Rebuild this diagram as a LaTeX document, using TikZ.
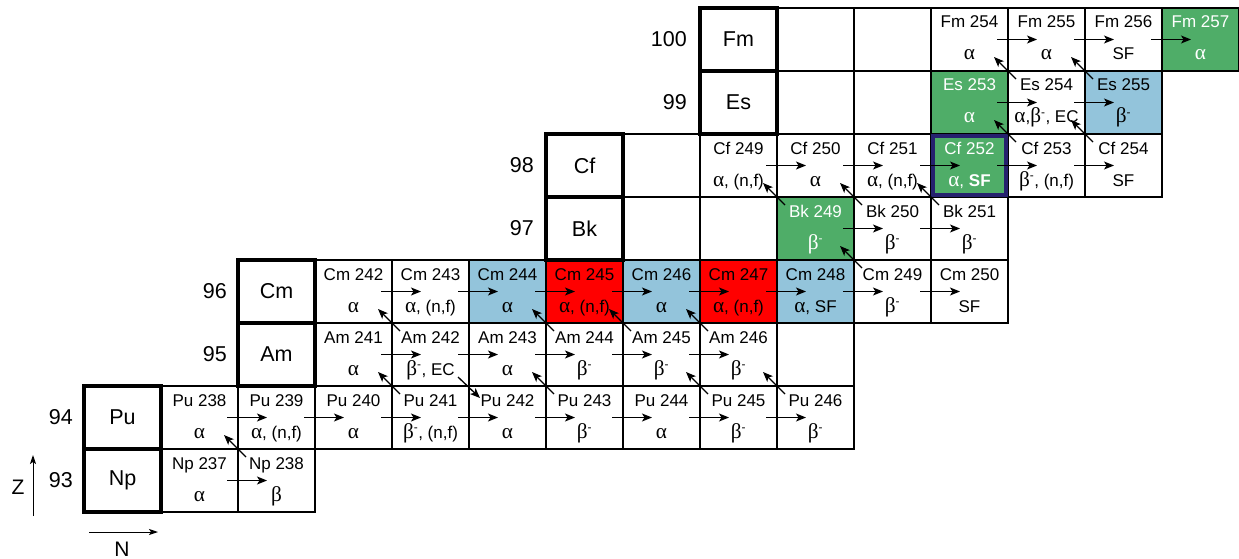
\documentclass[tikz,border=0pt]{standalone}
\usepackage{fontspec}
\setmainfont{Liberation Sans}
\newfontfamily\grk[Scale=1.25]{Liberation Serif}
\usetikzlibrary{arrows.meta}
\definecolor{cblue}{RGB}{147,196,219}
\definecolor{cred}{RGB}{255,0,0}
\definecolor{cgreen}{RGB}{79,173,104}
\definecolor{cnavy}{RGB}{38,34,110}
\newcommand\xal{{\grk α}}
\newcommand\xbe{{\grk β}}
\newcommand\xbm{{\grk β}\textsuperscript{-}}
\newcommand\nuc[7]{%
  \node[cellbox,#4] (#1) at ({122.5+77*#2},{480.5-63*#3}) {};
  \node[toptext,#7] (#1-t) at ([yshift=-20pt]#1.north) {#5};
  \node[bottext,#7] (#1-b) at ([yshift=-52pt]#1.north) {#6};
}
\newcommand\elem[3]{%
  \node[elbox] (#1) at ({122.5+77*#2},{480.5-63*#3}) {#1};
}
\newcommand\harr[2]{\draw[arr] ([xshift=-11pt]#1.east) -- ([xshift=29pt]#2.west);}
\newcommand\darr[2]{\draw[arr] ([shift={(8pt,-8pt)}]#1.north west) -- ([shift={(-14pt,14pt)}]#2.south east);}
\tikzset{
  cellbox/.style={draw=black,line width=1.4pt,minimum width=77pt,minimum height=63pt,inner sep=0pt,outer sep=0pt},
  toptext/.style={anchor=base,inner sep=0pt,font=\fontsize{17}{19}\selectfont},
  bottext/.style={anchor=base,inner sep=0pt,font=\fontsize{17}{19}\selectfont},
  elbox/.style={draw=black,line width=4pt,minimum width=77pt,minimum height=63pt,inner sep=0pt,outer sep=0pt,font=\fontsize{21.5}{24}\selectfont},
  znum/.style={anchor=east,inner sep=0pt,font=\fontsize{21.5}{24}\selectfont},
  axlab/.style={inner sep=0pt,font=\fontsize{21}{24}\selectfont},
  arr/.style={-{Stealth[length=10pt,width=8pt,inset=2.5pt]},line width=1.3pt},
  axarr/.style={-{Stealth[length=9pt,width=6pt,inset=2pt]},line width=1pt},
  blu/.style={fill=cblue},
  rd/.style={fill=cred},
  grn/.style={fill=cgreen},
  wht/.style={text=white},
  plain/.style={}
}
\begin{document}
\begin{tikzpicture}[x=1pt,y=-1pt]
\useasboundingbox (0,0) rectangle (1239,559);
% row 0 (Np)
\nuc{np237}{1}{0}{}{Np 237}{\xal}{plain}
\nuc{np238}{2}{0}{}{Np 238}{\xbe}{plain}
% row 1 (Pu)
\nuc{pu238}{1}{1}{}{Pu 238}{\xal}{plain}
\nuc{pu239}{2}{1}{}{Pu 239}{\xal, (n,f)}{plain}
\nuc{pu240}{3}{1}{}{Pu 240}{\xal}{plain}
\nuc{pu241}{4}{1}{}{Pu 241}{\xbm, (n,f)}{plain}
\nuc{pu242}{5}{1}{}{Pu 242}{\xal}{plain}
\nuc{pu243}{6}{1}{}{Pu 243}{\xbm}{plain}
\nuc{pu244}{7}{1}{}{Pu 244}{\xal}{plain}
\nuc{pu245}{8}{1}{}{Pu 245}{\xbm}{plain}
\nuc{pu246}{9}{1}{}{Pu 246}{\xbm}{plain}
% row 2 (Am)
\nuc{am241}{3}{2}{}{Am 241}{\xal}{plain}
\nuc{am242}{4}{2}{}{Am 242}{\xbm, EC}{plain}
\nuc{am243}{5}{2}{}{Am 243}{\xal}{plain}
\nuc{am244}{6}{2}{}{Am 244}{\xbm}{plain}
\nuc{am245}{7}{2}{}{Am 245}{\xbm}{plain}
\nuc{am246}{8}{2}{}{Am 246}{\xbm}{plain}
\nuc{ea}{9}{2}{}{}{}{plain}
% row 3 (Cm)
\nuc{cm242}{3}{3}{}{Cm 242}{\xal}{plain}
\nuc{cm243}{4}{3}{}{Cm 243}{\xal, (n,f)}{plain}
\nuc{cm244}{5}{3}{blu}{Cm 244}{\xal}{plain}
\nuc{cm245}{6}{3}{rd}{Cm 245}{\xal, (n,f)}{plain}
\nuc{cm246}{7}{3}{blu}{Cm 246}{\xal}{plain}
\nuc{cm247}{8}{3}{rd}{Cm 247}{\xal, (n,f)}{plain}
\nuc{cm248}{9}{3}{blu}{Cm 248}{\xal, SF}{plain}
\nuc{cm249}{10}{3}{}{Cm 249}{\xbm}{plain}
\nuc{cm250}{11}{3}{}{Cm 250}{SF}{plain}
% row 4 (Bk)
\nuc{eb1}{7}{4}{}{}{}{plain}
\nuc{eb2}{8}{4}{}{}{}{plain}
\nuc{bk249}{9}{4}{grn}{Bk 249}{\xbm}{wht}
\nuc{bk250}{10}{4}{}{Bk 250}{\xbm}{plain}
\nuc{bk251}{11}{4}{}{Bk 251}{\xbm}{plain}
% row 5 (Cf)
\nuc{ec1}{7}{5}{}{}{}{plain}
\nuc{cf249}{8}{5}{}{Cf 249}{\xal, (n,f)}{plain}
\nuc{cf250}{9}{5}{}{Cf 250}{\xal}{plain}
\nuc{cf251}{10}{5}{}{Cf 251}{\xal, (n,f)}{plain}
\nuc{cf252}{11}{5}{grn}{Cf 252}{\xal, \textbf{SF}}{wht}
\nuc{cf253}{12}{5}{}{Cf 253}{\xbm, (n,f)}{plain}
\nuc{cf254}{13}{5}{}{Cf 254}{SF}{plain}
% row 6 (Es)
\nuc{ee1}{9}{6}{}{}{}{plain}
\nuc{ee2}{10}{6}{}{}{}{plain}
\nuc{es253}{11}{6}{grn}{Es 253}{\xal}{wht}
\nuc{es254}{12}{6}{}{Es 254}{\xal,\xbm, EC}{plain}
\nuc{es255}{13}{6}{blu}{Es 255}{\xbm}{plain}
% row 7 (Fm)
\nuc{ef1}{9}{7}{}{}{}{plain}
\nuc{ef2}{10}{7}{}{}{}{plain}
\nuc{fm254}{11}{7}{}{Fm 254}{\xal}{plain}
\nuc{fm255}{12}{7}{}{Fm 255}{\xal}{plain}
\nuc{fm256}{13}{7}{}{Fm 256}{SF}{plain}
\nuc{fm257}{14}{7}{grn}{Fm 257}{\xal}{wht}
% Cf 252 frame
\draw[cnavy,line width=3.5pt] ([shift={(2pt,-2pt)}]cf252.north west) rectangle ([shift={(-2pt,2pt)}]cf252.south east);
% element boxes
\elem{Np}{0}{0}
\elem{Pu}{0}{1}
\elem{Am}{2}{2}
\elem{Cm}{2}{3}
\elem{Bk}{6}{4}
\elem{Cf}{6}{5}
\elem{Es}{8}{6}
\elem{Fm}{8}{7}
\node[znum] (z93) at ([xshift=-11pt]Np.west) {93};
\node[znum] (z94) at ([xshift=-11pt]Pu.west) {94};
\node[znum] (z95) at ([xshift=-11pt]Am.west) {95};
\node[znum] (z96) at ([xshift=-11pt]Cm.west) {96};
\node[znum] (z97) at ([xshift=-12pt]Bk.west) {97};
\node[znum] (z98) at ([xshift=-12pt]Cf.west) {98};
\node[znum] (z99) at ([xshift=-13pt]Es.west) {99};
\node[znum] (z100) at ([xshift=-13pt]Fm.west) {100};
% neutron capture arrows
\harr{np237}{np238}
\harr{pu238}{pu239}\harr{pu239}{pu240}\harr{pu240}{pu241}\harr{pu241}{pu242}
\harr{pu242}{pu243}\harr{pu243}{pu244}\harr{pu244}{pu245}\harr{pu245}{pu246}
\harr{am241}{am242}\harr{am242}{am243}\harr{am243}{am244}\harr{am244}{am245}\harr{am245}{am246}
\harr{cm242}{cm243}\harr{cm243}{cm244}\harr{cm244}{cm245}\harr{cm245}{cm246}
\harr{cm246}{cm247}\harr{cm247}{cm248}\harr{cm248}{cm249}\harr{cm249}{cm250}
\harr{bk249}{bk250}\harr{bk250}{bk251}
\harr{cf249}{cf250}\harr{cf250}{cf251}\harr{cf251}{cf252}\harr{cf252}{cf253}\harr{cf253}{cf254}
\harr{es253}{es254}\harr{es254}{es255}
\harr{fm254}{fm255}\harr{fm255}{fm256}\harr{fm256}{fm257}
% decay arrows
\darr{np238}{pu238}
\darr{pu241}{am241}\darr{am242}{cm242}
\darr{pu243}{am243}\darr{am244}{cm244}
\darr{pu245}{am245}\darr{am245}{cm245}
\darr{pu246}{am246}\darr{am246}{cm246}
\darr{cm249}{bk249}\darr{bk249}{cf249}\darr{bk250}{cf250}\darr{bk251}{cf251}
\darr{cf253}{es253}\darr{cf254}{es254}\darr{es254}{fm254}\darr{es255}{fm255}
\draw[arr] ([shift={(-11pt,9pt)}]am242.south east) -- ([shift={(11pt,-12pt)}]pu242.north west);
% axes
\coordinate (zs) at (33,516);
\coordinate (ze) at (33,455);
\coordinate (ns) at (89,532);
\coordinate (ne) at (158,532);
\draw[axarr] (zs) -- (ze);
\draw[axarr] (ns) -- (ne);
\node[axlab] (zlab) at (18,487) {Z};
\node[axlab] (nlab) at (122,549) {N};
\end{tikzpicture}
\end{document}
